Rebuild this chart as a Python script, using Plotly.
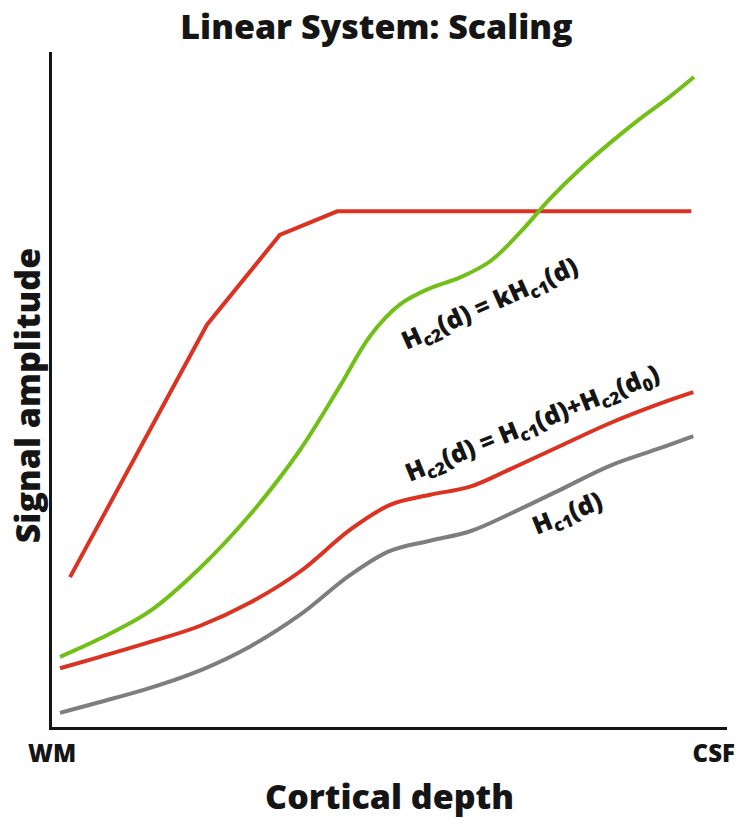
import plotly.graph_objects as go

# ---- data (depth 0 = WM, 1 = CSF; amplitude in arbitrary units 0..1) ----
depth_ticks = [0, 1]
depth_tick_labels = ["WM", "CSF&nbsp;&nbsp;"]

hc1_depth = [0.012, 0.072, 0.147, 0.222, 0.296, 0.371, 0.446, 0.506, 0.566,
             0.626, 0.686, 0.760, 0.835, 0.910, 0.960]
hc1_amp = [0.021, 0.037, 0.058, 0.084, 0.119, 0.166, 0.225, 0.261, 0.276,
           0.290, 0.316, 0.351, 0.387, 0.413, 0.431]

hc2_add_depth = [0.012, 0.072, 0.147, 0.222, 0.296, 0.371, 0.446, 0.506, 0.566,
                 0.626, 0.686, 0.760, 0.835, 0.910, 0.960]
hc2_add_amp = [0.087, 0.104, 0.126, 0.150, 0.184, 0.230, 0.292, 0.329, 0.344,
               0.356, 0.382, 0.416, 0.450, 0.479, 0.496]

hc2_scale_depth = [0.012, 0.072, 0.147, 0.222, 0.296, 0.371, 0.431, 0.476, 0.521,
                   0.566, 0.611, 0.656, 0.701, 0.746, 0.790, 0.835, 0.880, 0.925,
                   0.961]
hc2_scale_amp = [0.104, 0.131, 0.172, 0.236, 0.314, 0.410, 0.505, 0.579, 0.626,
                 0.650, 0.666, 0.690, 0.733, 0.783, 0.826, 0.865, 0.901, 0.934,
                 0.963]

sat_depth = [0.027, 0.232, 0.341, 0.427, 0.957]
sat_amp = [0.222, 0.596, 0.729, 0.764, 0.764]

RED = "#DC3222"
GREEN = "#72BF18"
GRAY = "#7E7E7E"
INK = "#151515"
FONT = "Open Sans"

fig = go.Figure()
fig.add_trace(go.Scatter(x=sat_depth, y=sat_amp, mode="lines",
                         line=dict(color=RED, width=4), name="saturation"))
fig.add_trace(go.Scatter(x=hc2_scale_depth, y=hc2_scale_amp, mode="lines",
                         line=dict(color=GREEN, width=4, shape="spline", smoothing=1.0),
                         name="kHc1"))
fig.add_trace(go.Scatter(x=hc2_add_depth, y=hc2_add_amp, mode="lines",
                         line=dict(color=RED, width=4, shape="spline", smoothing=1.0),
                         name="Hc1+Hc2(d0)"))
fig.add_trace(go.Scatter(x=hc1_depth, y=hc1_amp, mode="lines",
                         line=dict(color=GRAY, width=4, shape="spline", smoothing=1.0),
                         name="Hc1"))

lab_font = dict(family=FONT, size=25, color=INK, weight=800)
fig.add_annotation(x=0.656, y=0.627, xref="x", yref="y", showarrow=False,
                   text="H<sub>c2</sub>(d) = kH<sub>c1</sub>(d)", textangle=-24,
                   font=lab_font)
fig.add_annotation(x=0.719, y=0.449, xref="x", yref="y", showarrow=False,
                   text="H<sub>c2</sub>(d) = H<sub>c1</sub>(d)+H<sub>c2</sub>(d<sub>0</sub>)",
                   textangle=-22, font=lab_font)
fig.add_annotation(x=0.771, y=0.316, xref="x", yref="y", showarrow=False,
                   text="H<sub>c1</sub>(d)", textangle=-22, font=lab_font)

big = dict(family=FONT, size=34, color=INK, weight=800)

# y-axis title placed as a rotated annotation so it can sit close to the page edge
fig.add_annotation(x=-25 / 675, y=0.49, xref="paper", yref="paper", showarrow=False,
                   text="Signal amplitude", textangle=-90, xanchor="center",
                   yanchor="middle", font=big)

# the page body adds an 8px margin, so the figure is sized to fit the window
fig.update_layout(
    width=737, height=818,
    margin=dict(l=44, r=18, t=44, b=99),
    paper_bgcolor="white", plot_bgcolor="white",
    showlegend=False,
    font=dict(family=FONT, color=INK, weight=800),
    title=dict(text="Linear System: Scaling", x=0.5, xanchor="center",
               y=1 - 19 / 818, yanchor="middle", yref="container", font=big),
    xaxis=dict(range=[0, 675 / 668], tickvals=depth_ticks, ticktext=depth_tick_labels,
               showgrid=False, zeroline=False, showline=True, linecolor=INK,
               linewidth=2.5, ticks="", ticklabelstandoff=3, automargin=False,
               ticklabeloverflow="allow",
               tickfont=dict(family=FONT, size=24, color=INK, weight=800),
               title=dict(text="Cortical depth", standoff=18, font=big)),
    yaxis=dict(range=[0, 1], showticklabels=False, showgrid=False, zeroline=False,
               showline=True, linecolor=INK, linewidth=2.5, ticks="", automargin=False),
)

fig.write_html("out.html")
